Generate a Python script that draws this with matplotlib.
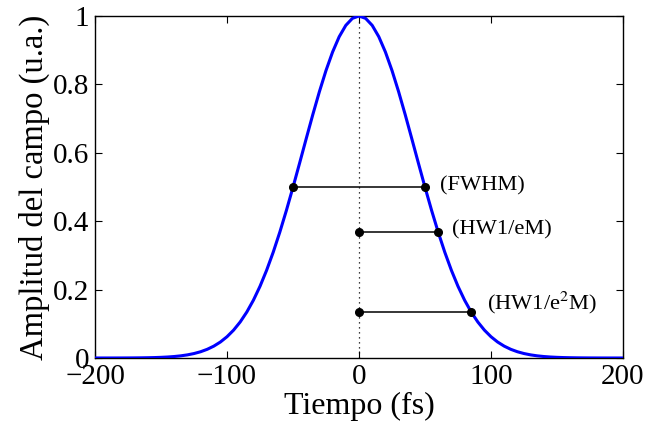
import matplotlib
matplotlib.use("Agg")
import matplotlib.pyplot as plt

plt.rcParams['font.family'] = ['Liberation Serif', 'DejaVu Serif']
plt.rcParams['mathtext.fontset'] = 'stix'

# Pulse amplitude (time in fs)
t = [-200, -195, -190, -185, -180, -175, -170, -165, -160, -155, -150, -145, -140, -135,
     -130, -125, -120, -115, -110, -105, -100, -95, -90, -85, -80, -75, -70, -65, -60,
     -55, -50, -45, -40, -35, -30, -25, -20, -15, -10, -5, 0,
     5, 10, 15, 20, 25, 30, 35, 40, 45, 50, 55, 60, 65, 70, 75, 80, 85, 90, 95, 100,
     105, 110, 115, 120, 125, 130, 135, 140, 145, 150, 155, 160, 165, 170, 175, 180,
     185, 190, 195, 200]
amp = [0.00002, 0.00003, 0.00004, 0.00007, 0.00012, 0.00020, 0.00033, 0.00052, 0.00082,
       0.00126, 0.00193, 0.00291, 0.00432, 0.00633, 0.00914, 0.01304, 0.0183, 0.02539,
       0.0347, 0.04677, 0.0622, 0.08153, 0.1054, 0.13439, 0.169, 0.20961, 0.2564, 0.30923,
       0.3679, 0.43159, 0.4994, 0.56978, 0.6412, 0.71159, 0.7788, 0.84063, 0.8948, 0.93941,
       0.9726, 0.99308, 1.0,
       0.99308, 0.9726, 0.93941, 0.8948, 0.84063, 0.7788, 0.71159, 0.6412, 0.56978, 0.4994,
       0.43159, 0.3679, 0.30923, 0.2564, 0.20961, 0.169, 0.13439, 0.1054, 0.08153, 0.0622,
       0.04677, 0.0347, 0.02539, 0.0183, 0.01304, 0.00914, 0.00633, 0.00432, 0.00291,
       0.00193, 0.00126, 0.00082, 0.00052, 0.00033, 0.00020, 0.00012, 0.00007, 0.00004,
       0.00003, 0.00002]

# Width markers: (x start, x end, level)
fwhm_x = [-50, 50]
fwhm_y = [0.5, 0.5]
hw1e_x = [0, 60]
hw1e_y = [0.368, 0.368]
hw1e2_x = [0, 85]
hw1e2_y = [0.135, 0.135]

labels = ['(FWHM)', '(HW1/eM)', '(HW1/e$^2$M)']
label_pos = [(61, 0.503), (70.5, 0.374), (97, 0.16)]

xticks = [-200, -100, 0, 100, 200]
yticks = [0, 0.2, 0.4, 0.6, 0.8, 1]
yticklabels = ['0', '0.2', '0.4', '0.6', '0.8', '1']
xticklabels = ['\u2212200', '\u2212100', '0', '100', '200']

fig = plt.figure(figsize=(6.47, 4.30), dpi=100)
ax = fig.add_axes([95/647, 1 - 358/430, (623-95)/647, (358-16)/430])

ax.plot([0, 0], [0, 1], color='black', linestyle=(0, (1, 3)), linewidth=0.9)
ax.plot(t, amp, color='#0000ff', linewidth=2.2, zorder=3)
for xs, ys in [(fwhm_x, fwhm_y), (hw1e_x, hw1e_y), (hw1e2_x, hw1e2_y)]:
    ax.plot(xs, ys, color='black', linewidth=1.1, marker='o', markersize=5.5, zorder=4)

for lab, (lx, ly) in zip(labels, label_pos):
    ax.text(lx, ly, lab, fontsize=16.2, va='center', ha='left')

ax.set_xlim(-200, 200)
ax.set_ylim(0, 1)
ax.set_xticks(xticks)
ax.set_xticklabels(xticklabels)
ax.set_yticks(yticks)
ax.set_yticklabels(yticklabels)
ax.tick_params(direction='in', top=True, right=True, labelsize=21, length=5, width=0.8, pad=4)
for s in ax.spines.values():
    s.set_linewidth(1.0)
ax.set_xlabel('Tiempo (fs)', fontsize=23, labelpad=2)
ax.set_ylabel('Amplitud del campo (u.a.)', fontsize=23.5, labelpad=2)

fig.savefig('out.png', dpi=100)
